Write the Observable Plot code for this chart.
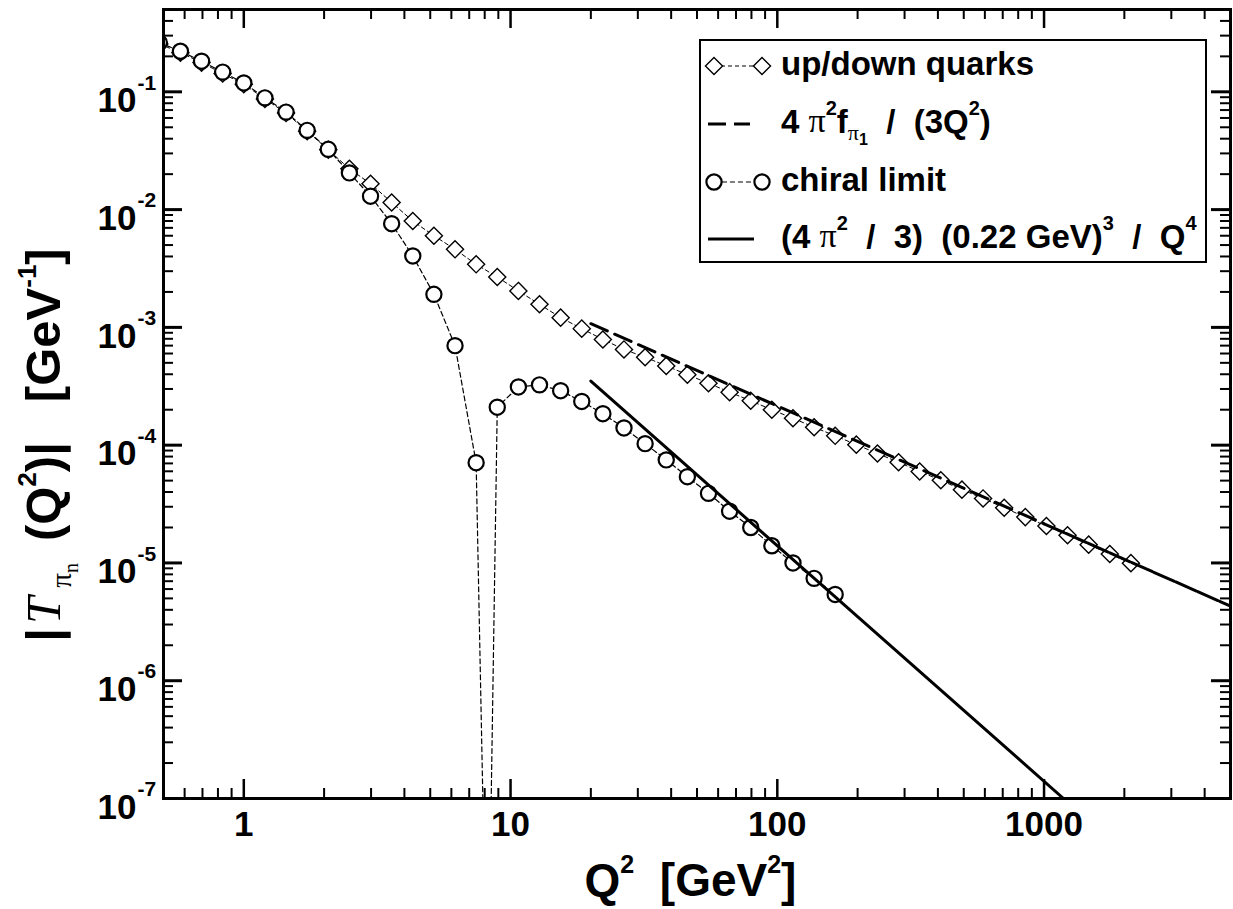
<!DOCTYPE html>
<html><head><meta charset="utf-8">
<script src="https://cdn.jsdelivr.net/npm/d3@7"></script>
<script src="https://cdn.jsdelivr.net/npm/@observablehq/plot@0.6"></script>
<style>
html,body{margin:0;padding:0;background:#fff;}
#chart{width:1233px;height:909px;}
svg text{white-space:pre;}
</style></head><body><div id="chart"></div>
<script>
// ---- data ----
const q2Grid = [0.4823,0.5787,0.6944,0.8333,1.000,1.200,1.440,1.728,2.074,2.488,2.986,3.583,4.300,5.160,6.192,7.430,8.916,10.70,12.84,15.41,18.49,22.19,26.62,31.95,38.34,46.01,55.21,66.25,79.50,95.40,114.5,137.4,164.8,197.8,237.4,284.9,341.8,410.2,492.2,590.7,708.8,850.6,1020.7,1224.8,1469.8,1763.7,2116.4];
const upDown = [0.255,0.215,0.177,0.143,0.116,0.087,0.066,0.0462,0.0322,0.0222,0.0166,0.0115,0.0080,0.0060,0.0046,0.00343,0.00268,0.00204,0.00157,0.00121,0.000976,0.00079,0.00065,0.000558,0.000471,0.000397,0.000335,0.000282,0.000238,0.000200,0.000169,0.000142,0.000120,0.000101,0.000085,0.0000716,0.0000598,0.0000503,0.0000419,0.0000353,0.0000294,0.0000245,0.0000206,0.0000172,0.0000143,0.0000119,0.00000996];
const chiral = [0.262,0.221,0.182,0.147,0.119,0.0889,0.0673,0.0471,0.0325,0.0205,0.0130,0.00759,0.00404,0.00191,0.00070,0.000071,0.000210,0.000312,0.000325,0.000290,0.000235,0.000185,0.000140,0.000103,0.000075,0.000054,0.000039,0.0000275,0.0000200,0.0000140,0.0000100,0.0000074,0.0000054];
// node of the chiral-limit curve (sign change, |T| -> 0)
const nodeQ2 = [8.2];
const nodeT = [1e-9];
// asymptotic forms (dashed part, then where the dashes close up)
const asymUdQ2 = [20, 1000];
const asymUdT = [1.075e-3, 2.15e-5];
const asymUdTailQ2 = [1000, 5000];
const asymUdTailT = [2.15e-5, 4.3e-6];
const asymChQ2 = [20, 1183];
const asymChT = [3.5e-4, 1.0e-7];
// ticks
const xMajor = [1, 10, 100, 1000];
const xMinor = [0.6,0.7,0.8,0.9,2,3,4,5,6,7,8,9,20,30,40,50,60,70,80,90,200,300,400,500,600,700,800,900,2000,3000,4000];
const yMajor = [1e-7,1e-6,1e-5,1e-4,1e-3,1e-2,1e-1];
const yMinorMult = [2,3,4,5,6,7,8,9];
const yMinor = yMajor.flatMap(d => yMinorMult.map(m => m * d)).filter(v => v < 0.5);

const legendLabels = ["up/down quarks", "4 π²f_π1 / (3Q²)", "chiral limit", "(4 π² / 3) (0.22 GeV)³ / Q⁴"];

// ---- build tables ----
const udData = q2Grid.map((q, i) => ({q, t: upDown[i]}));
const chData = chiral.map((t, i) => ({q: q2Grid[i], t}));
const chLine = chData.concat(nodeQ2.map((q, i) => ({q, t: nodeT[i]}))).sort((a, b) => a.q - b.q);
const asUd = asymUdQ2.map((q, i) => ({q, t: asymUdT[i]}));
const asUdTail = asymUdTailQ2.map((q, i) => ({q, t: asymUdTailT[i]}));
const asCh = asymChQ2.map((q, i) => ({q, t: asymChT[i]}));

const W = 1233, H = 909, mL = 163, mR = 3, mT = 9, mB = 111;
const fh = H - mT - mB, fw = W - mL - mR;
const majL = 19, minL = 10;
const FONT = "'Liberation Sans', Arial, Helvetica, sans-serif";
const SERIF = "'Liberation Serif', 'Times New Roman', serif";
const diamondSym = d3.symbolDiamond2 || "diamond2";

const plot = Plot.plot({
  width: W, height: H,
  marginLeft: mL, marginRight: mR, marginTop: mT, marginBottom: mB,
  x: {type: "log", domain: [0.5, 5000], axis: null},
  y: {type: "log", domain: [1e-7, 0.5], axis: null},
  style: {background: "white", fontFamily: FONT, color: "black"},
  marks: [
    // data
    Plot.line(udData, {x: "q", y: "t", stroke: "black", strokeWidth: 1, strokeDasharray: "4,3", clip: true}),
    Plot.dot(udData, {x: "q", y: "t", symbol: diamondSym, r: 7.7, stroke: "black", strokeWidth: 1.4, fill: "white", clip: true}),
    Plot.line(chLine, {x: "q", y: "t", stroke: "black", strokeWidth: 1.2, strokeDasharray: "5,3", clip: true}),
    Plot.dot(chData, {x: "q", y: "t", symbol: "circle", r: 7.6, stroke: "black", strokeWidth: 2.2, fill: "white", clip: true}),
    Plot.line(asUd, {x: "q", y: "t", stroke: "black", strokeWidth: 3, strokeDasharray: "18,8", clip: true}),
    Plot.line(asUdTail, {x: "q", y: "t", stroke: "black", strokeWidth: 3, strokeDasharray: "22,2", clip: true}),
    Plot.line(asCh, {x: "q", y: "t", stroke: "black", strokeWidth: 3, clip: true}),
    // ticks (inside, all four sides)
    Plot.tickX(xMajor, {x: d => d, insetTop: fh - majL, strokeWidth: 2.5}),
    Plot.tickX(xMajor, {x: d => d, insetBottom: fh - majL, strokeWidth: 2.5}),
    Plot.tickX(xMinor, {x: d => d, insetTop: fh - minL, strokeWidth: 2}),
    Plot.tickX(xMinor, {x: d => d, insetBottom: fh - minL, strokeWidth: 2}),
    Plot.tickY(yMajor, {y: d => d, insetRight: fw - majL, strokeWidth: 3}),
    Plot.tickY(yMajor, {y: d => d, insetLeft: fw - majL, strokeWidth: 3}),
    Plot.tickY(yMinor, {y: d => d, insetRight: fw - minL, strokeWidth: 2}),
    Plot.tickY(yMinor, {y: d => d, insetLeft: fw - minL, strokeWidth: 2}),
    Plot.frame({stroke: "black", strokeWidth: 3}),
    // tick labels
    Plot.text(xMajor, {x: d => d, frameAnchor: "bottom", text: d => String(d), lineAnchor: "top", dy: 13, fontSize: 35, fontWeight: "bold", fill: "black"}),
    Plot.text(yMajor, {y: d => d, frameAnchor: "left", text: () => "10", textAnchor: "end", dx: -27, dy: 9, fontSize: 35, fontWeight: "bold", fill: "black"}),
    Plot.text(yMajor, {y: d => d, frameAnchor: "left", text: d => String(Math.round(Math.log10(d))), textAnchor: "start", dx: -26, dy: -9, fontSize: 21, fontWeight: "bold", fill: "black"})
  ]
});
document.getElementById("chart").appendChild(plot);

const svg = d3.select(plot);

function rich(parent, x, y, parts, attrs) {
  const t = parent.append("text").attr("x", x).attr("y", y);
  for (const [k, v] of Object.entries(attrs || {})) t.attr(k, v);
  let cur = 0;
  for (const p of parts) {
    const off = p.off || 0;
    const ts = t.append("tspan").text(p.t).attr("dy", off - cur);
    cur = off;
    if (p.dx) ts.attr("dx", p.dx);
    if (p.size) ts.attr("font-size", p.size);
    if (p.family) ts.attr("font-family", p.family);
    if (p.style) ts.attr("font-style", p.style);
    if (p.weight) ts.attr("font-weight", p.weight);
  }
  return t;
}

// axis titles
const xs = plot.scale("x");
const xMid = (xs.range[0] + xs.range[1]) / 2;
rich(svg, xMid - 6, 896, [
  {t: "Q"}, {t: "2", size: 25, off: -23}, {t: "  [GeV"}, {t: "2", size: 25, off: -23}, {t: "]"}
], {"font-size": 46, "font-weight": "bold", "font-family": FONT, "text-anchor": "middle", fill: "black"});

const yt = svg.append("g").attr("transform", "translate(60,445) rotate(-90)");
rich(yt, 0, 0, [
  {t: "|"}, {t: "T", family: SERIF, style: "italic", weight: "normal", dx: 4},
  {t: "π", family: SERIF, weight: "normal", size: 29, off: 11, dx: 9},
  {t: "n", family: SERIF, weight: "normal", size: 20, off: 18},
  {t: "(Q", off: 0, dx: 22}, {t: "2", size: 26, off: -24}, {t: ")|", off: 0}, {t: "[GeV", dx: 40},
  {t: "-1", size: 26, off: -24}, {t: "]", off: 0}
], {"font-size": 49, "font-weight": "bold", "font-family": FONT, "text-anchor": "middle", fill: "black"});

// legend
const lg = svg.append("g").attr("text-anchor", "start");
const LX = 700, LY = 40, LW = 506, LH = 222;
lg.append("rect").attr("x", LX).attr("y", LY).attr("width", LW).attr("height", LH)
  .attr("fill", "white").attr("stroke", "black").attr("stroke-width", 2);
const rowY = [66, 124, 182, 239];
const sx0 = 714, sx1 = 762, tx = 781;
// row 1: diamonds
lg.append("line").attr("x1", sx0).attr("x2", sx1).attr("y1", rowY[0]).attr("y2", rowY[0])
  .attr("stroke", "black").attr("stroke-width", 1).attr("stroke-dasharray", "4,3");
[sx0, sx1].forEach(x => lg.append("path").attr("d", d3.symbol(d3.symbolDiamond2 || d3.symbolDiamond, Math.PI * 7.7 * 7.7)())
  .attr("transform", `translate(${x},${rowY[0]})`).attr("fill", "white").attr("stroke", "black").attr("stroke-width", 1.4));
// row 2: dashed
lg.append("line").attr("x1", 708).attr("x2", 750).attr("y1", rowY[1]).attr("y2", rowY[1])
  .attr("stroke", "black").attr("stroke-width", 3).attr("stroke-dasharray", "18,8");
// row 3: circles
lg.append("line").attr("x1", sx0).attr("x2", sx1).attr("y1", rowY[2]).attr("y2", rowY[2])
  .attr("stroke", "black").attr("stroke-width", 1.2).attr("stroke-dasharray", "5,3");
[sx0, sx1].forEach(x => lg.append("circle").attr("cx", x).attr("cy", rowY[2]).attr("r", 7.6)
  .attr("fill", "white").attr("stroke", "black").attr("stroke-width", 2.2));
// row 4: solid
lg.append("line").attr("x1", 708).attr("x2", 754).attr("y1", rowY[3]).attr("y2", rowY[3])
  .attr("stroke", "black").attr("stroke-width", 3);

const LA = {"font-size": 33, "font-weight": "bold", "font-family": FONT, fill: "black", "dominant-baseline": "middle", "text-anchor": "start"};
rich(lg, tx, rowY[0], [{t: legendLabels[0]}], LA);
rich(lg, tx, rowY[1], [
  {t: "4 "}, {t: "π", family: SERIF, weight: "normal", size: 34}, {t: "2", size: 20, off: -14}, {t: "f", off: 0},
  {t: "π", family: SERIF, weight: "normal", size: 22, off: 11}, {t: "1", size: 16, off: 17},
  {t: "  /  (3Q", off: 0}, {t: "2", size: 20, off: -14}, {t: ")", off: 0}
], LA);
rich(lg, tx, rowY[2], [{t: legendLabels[2]}], LA);
rich(lg, tx, rowY[3], [
  {t: "(4 "}, {t: "π", family: SERIF, weight: "normal", size: 34}, {t: "2", size: 20, off: -14},
  {t: "  /  3)  (0.22 GeV)", off: 0}, {t: "3", size: 20, off: -14}, {t: "  /  Q", off: 0}, {t: "4", size: 20, off: -14}
], LA);
</script>
</body></html>
